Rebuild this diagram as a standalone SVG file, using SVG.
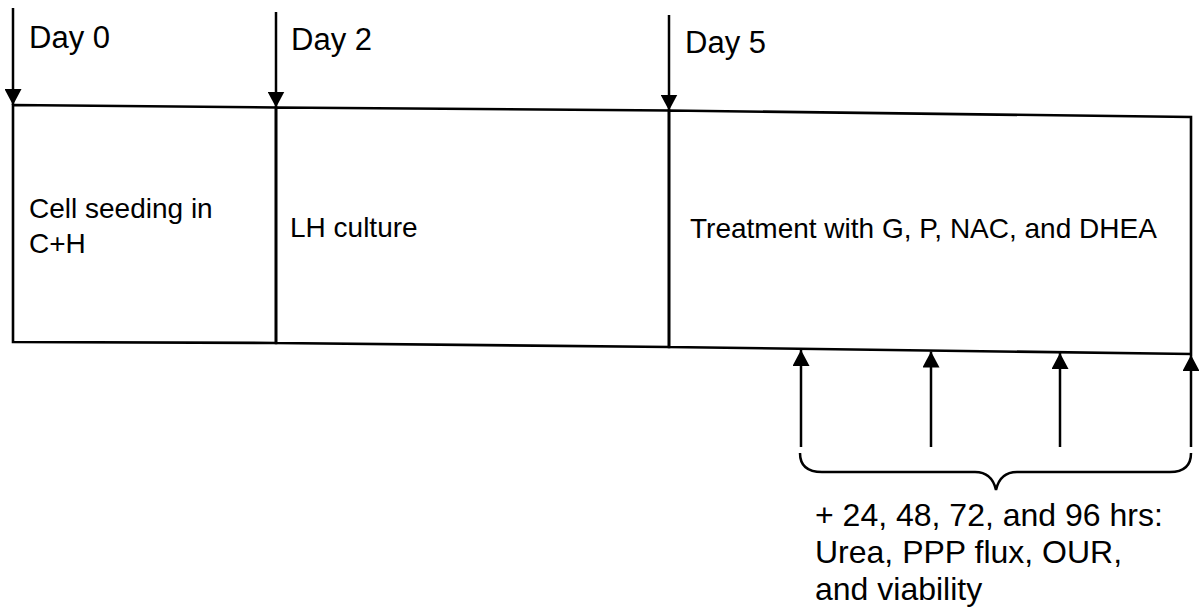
<svg xmlns="http://www.w3.org/2000/svg" width="1199" height="611" viewBox="0 0 1199 611">
  <style>
    text { font-family: "Liberation Sans", Arial, sans-serif; fill: #000; }
    .day { font-size: 31px; }
    .lbl { font-size: 28px; }
    .note { font-size: 32px; }
    .edge { fill: none; stroke: #000; stroke-width: 2.6; stroke-linejoin: miter; }
    .conn { fill: none; stroke: #000; stroke-width: 2.5; }
  </style>
  <defs>
    <marker id="ah" viewBox="0 0 16 17" refX="16" refY="8.5" markerWidth="16" markerHeight="17" markerUnits="userSpaceOnUse" orient="auto">
      <path d="M0,0 L16,8.5 L0,17 z" fill="#000"/>
    </marker>
  </defs>

  <rect width="1199" height="611" fill="#fff"/>

  <g id="node-seeding">
    <polygon class="edge" points="13,105 276,107.5 276,343 13,342"/>
    <text class="lbl" x="29" y="218">Cell seeding in</text>
    <text class="lbl" x="29" y="253">C+H</text>
  </g>

  <g id="node-lh">
    <polygon class="edge" points="276,107.5 669,110.5 669,347 276,343"/>
    <text class="lbl" x="290" y="237">LH culture</text>
  </g>

  <g id="node-treatment">
    <polygon class="edge" points="669,110.5 1191,117 1191,354 669,347"/>
    <text class="lbl" x="690" y="238">Treatment with G, P, NAC, and DHEA</text>
  </g>

  <g id="label-day0"><text class="day" x="29" y="48">Day 0</text></g>
  <g id="label-day2"><text class="day" x="291" y="50">Day 2</text></g>
  <g id="label-day5"><text class="day" x="685" y="53">Day 5</text></g>

  <g id="note-measurements">
    <text class="note" x="815" y="526">+ 24, 48, 72, and 96 hrs:</text>
    <text class="note" x="815" y="563">Urea, PPP flux, OUR,</text>
    <text class="note" x="815" y="600">and viability</text>
  </g>

  <g id="connectors">
    <line class="conn" x1="13" y1="8" x2="13" y2="105" marker-end="url(#ah)"/>
    <line class="conn" x1="276" y1="12" x2="276" y2="107.5" marker-end="url(#ah)"/>
    <line class="conn" x1="669" y1="15" x2="669" y2="110.5" marker-end="url(#ah)"/>

    <line class="conn" x1="801" y1="447" x2="801" y2="350" marker-end="url(#ah)"/>
    <line class="conn" x1="931" y1="447" x2="931" y2="351.5" marker-end="url(#ah)"/>
    <line class="conn" x1="1060" y1="447" x2="1060" y2="353" marker-end="url(#ah)"/>
    <line class="conn" x1="1191" y1="447" x2="1191" y2="355" marker-end="url(#ah)"/>

    <path class="conn" stroke-width="3" d="M800,453 Q800,472 822,472 L975,472 Q992,472 996,490 Q1000,472 1017,472 L1170,472 Q1191,472 1191,453"/>
  </g>
</svg>
